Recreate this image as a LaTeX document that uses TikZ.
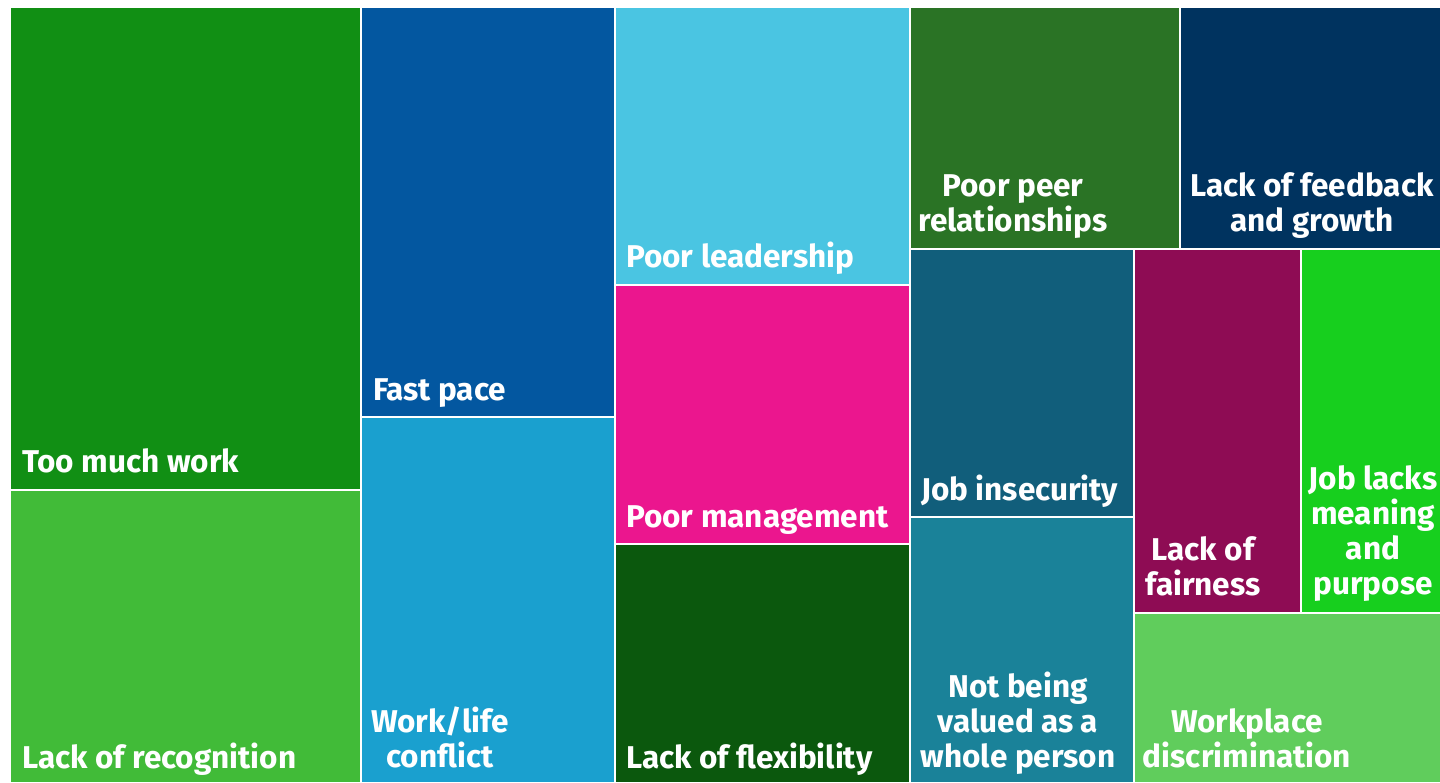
\documentclass[tikz,border=0pt]{standalone}
\usepackage{fontspec}
\setmainfont{Fira Sans}
\definecolor{cTMW}{HTML}{118F14}
\definecolor{cLoR}{HTML}{41BB38}
\definecolor{cFP}{HTML}{0357A0}
\definecolor{cWL}{HTML}{1AA0CF}
\definecolor{cPL}{HTML}{4AC5E2}
\definecolor{cPM}{HTML}{EB168E}
\definecolor{cLF}{HTML}{0B580D}
\definecolor{cPPR}{HTML}{2A7325}
\definecolor{cLFG}{HTML}{00335F}
\definecolor{cJI}{HTML}{115E7B}
\definecolor{cNBV}{HTML}{1A8299}
\definecolor{cLFa}{HTML}{8E0C54}
\definecolor{cJLM}{HTML}{17CF1E}
\definecolor{cWD}{HTML}{60CD5C}
\tikzset{
  lbl/.style={text=white,font=\fontsize{31.5}{35}\selectfont\bfseries,inner sep=0pt},
  lblL/.style={lbl,anchor=base west},
  lblC/.style={lbl,anchor=base,align=center}
}
\begin{document}
\begin{tikzpicture}[x=1pt,y=-1pt]
\useasboundingbox (0,0) rectangle (1440,782);
\fill[white] (0,0) rectangle (1440,782);
\fill[cTMW] (11,8) rectangle (360,489);
\fill[cLoR] (11,491) rectangle (360,782);
\fill[cFP] (362,8) rectangle (614,416);
\fill[cWL] (362,418) rectangle (614,782);
\fill[cPL] (616,8) rectangle (909,284);
\fill[cPM] (616,286) rectangle (909,543);
\fill[cLF] (616,545) rectangle (909,782);
\fill[cPPR] (911,8) rectangle (1179,248);
\fill[cLFG] (1181,8) rectangle (1440,248);
\fill[cJI] (911,250) rectangle (1133,516);
\fill[cNBV] (911,518) rectangle (1133,782);
\fill[cLFa] (1135,250) rectangle (1300,612);
\fill[cJLM] (1302,250) rectangle (1440,612);
\fill[cWD] (1135,614) rectangle (1440,782);
\node[lblL] (tmw) at (22,472) {Too much work};
\node[lblL] (lor) at (22,768) {Lack of recognition};
\node[lblL] (fp) at (373,400) {Fast pace};
\node[lblC] (wl) at (440,767) {Work/life\\conflict};
\node[lblL] (pl) at (626,267) {Poor leadership};
\node[lblL] (pm) at (626,527) {Poor management};
\node[lblL] (lf) at (626,768) {Lack of flexibility};
\node[lblC] (ppr) at (1013,231) {Poor peer\\relationships};
\node[lblC] (lfg) at (1312,231) {Lack of feedback\\and growth};
\node[lblL] (ji) at (921,500) {Job insecurity};
\node[lblC] (nbv) at (1018,767) {Not being\\valued as a\\whole person};
\node[lblC] (lfa) at (1203,595) {Lack of\\fairness};
\node[lblC] (jlm) at (1373,594) {Job lacks\\meaning\\and\\purpose};
\node[lblC] (wd) at (1247,767) {Workplace\\discrimination};
\end{tikzpicture}
\end{document}
